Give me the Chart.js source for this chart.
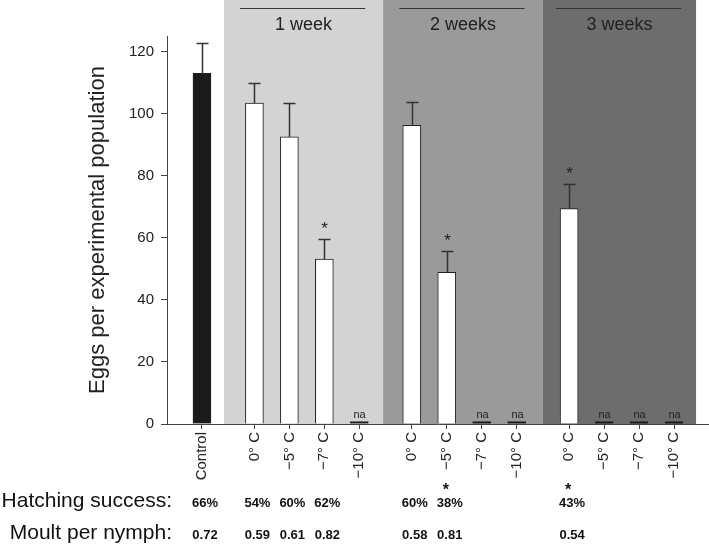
<!DOCTYPE html>
<html>
<head>
<meta charset="utf-8">
<script src="https://cdn.jsdelivr.net/npm/chart.js@4"></script>
<style>
  html, body { margin: 0; padding: 0; background: #fff; }
</style>
</head>
<body>
<canvas id="eggChart" width="709" height="544"></canvas>
<script>
// Bars, left to right (group 0 = control, then 1, 2, 3 weeks)
const labels = ["Control", "0° C", "−5° C", "−7° C", "−10° C", "0° C", "−5° C", "−7° C", "−10° C", "0° C", "−5° C", "−7° C", "−10° C"];
const groupOf = [0, 1, 1, 1, 1, 2, 2, 2, 2, 3, 3, 3, 3];
const groupNames = ["1 week", "2 weeks", "3 weeks"];
const eggs = [113, 103.4, 92.5, 53.1, null, 96.2, 48.9, null, null, 69.4, null, null, null];
const errorTop = [122.6, 110, 103.3, 59.7, null, 103.6, 55.6, null, null, 77.4, null, null, null];
const significant = [false, false, false, true, false, false, true, false, false, true, false, false, false];
const hatching = ["66%", "54%", "60%", "62%", null, "60%", "38%", null, null, "43%", null, null, null];
const hatchingSig = [false, false, false, false, false, false, true, false, false, true, false, false, false];
const moult = ["0.72", "0.59", "0.61", "0.82", null, "0.58", "0.81", null, null, "0.54", null, null, null];
const naStub = 0.8; // height of the little "na" marks
const yTicks = [0, 20, 40, 60, 80, 100, 120];

const FONT = "'Liberation Sans', Arial, Helvetica, sans-serif";

// half a slot of space between groups
const xPos = labels.map((_, i) => i + 0.5 * groupOf[i]);
// shaded areas behind each week group, in x units
const shades = [
  { from: 0.63, to: 5.18, color: "#d3d3d3" },
  { from: 5.18, to: 9.75, color: "#9a9a9a" },
  { from: 9.75, to: 14.13, color: "#6d6d6d" },
];

const barData = labels.map((_, i) => ({ x: xPos[i], y: eggs[i] == null ? naStub : eggs[i] }));
const barFill = labels.map((_, i) => (i === 0 ? "#1a1a1a" : eggs[i] == null ? "#111" : "#fff"));

const backdrop = {
  id: "backdrop",
  beforeDraw(chart) {
    const { ctx, chartArea, scales: { x } } = chart;
    ctx.save();
    shades.forEach((s, k) => {
      const x0 = x.getPixelForValue(s.from);
      const x1 = x.getPixelForValue(s.to);
      ctx.fillStyle = s.color;
      ctx.fillRect(x0, 0, x1 - x0, chartArea.bottom);
      const mid = (x0 + x1) / 2 - 1;
      const half = x.getPixelForValue(1.79) - x.getPixelForValue(0);
      ctx.strokeStyle = "#333";
      ctx.lineWidth = 1.2;
      ctx.beginPath();
      ctx.moveTo(mid - half, 8.5);
      ctx.lineTo(mid + half, 8.5);
      ctx.stroke();
      ctx.fillStyle = "#222";
      ctx.font = "18px " + FONT;
      ctx.textAlign = "center";
      ctx.textBaseline = "alphabetic";
      ctx.fillText(groupNames[k], mid + 1, 30);
    });
    ctx.restore();
  },
};

const marks = {
  id: "marks",
  afterDatasetsDraw(chart) {
    const { ctx, scales: { x, y } } = chart;
    ctx.save();
    ctx.strokeStyle = "#333";
    ctx.fillStyle = "#222";
    ctx.textAlign = "center";
    ctx.textBaseline = "alphabetic";
    labels.forEach((_, i) => {
      const px = Math.round(x.getPixelForValue(xPos[i])) + 0.5;
      if (errorTop[i] != null) {
        const yb = y.getPixelForValue(eggs[i]);
        const yt = Math.round(y.getPixelForValue(errorTop[i])) + 0.5;
        ctx.lineWidth = 1.5;
        ctx.beginPath();
        ctx.moveTo(px, yb);
        ctx.lineTo(px, yt);
        ctx.moveTo(px - 6, yt);
        ctx.lineTo(px + 6, yt);
        ctx.stroke();
        if (significant[i]) {
          ctx.font = "17px " + FONT;
          ctx.fillText("*", px, yt - 6);
        }
      }
      if (eggs[i] == null) {
        ctx.font = "11px " + FONT;
        ctx.fillText("na", px, y.getPixelForValue(0) - 6);
      }
    });
    ctx.restore();
  },
};

const bottomRows = {
  id: "bottomRows",
  afterDraw(chart) {
    const { ctx, scales: { x } } = chart;
    ctx.save();
    ctx.fillStyle = "#111";
    ctx.textBaseline = "alphabetic";
    ctx.textAlign = "right";
    ctx.font = "21px " + FONT;
    ctx.fillText("Hatching success:", 172, 507);
    ctx.fillText("Moult per nymph:", 172, 539);
    ctx.textAlign = "center";
    labels.forEach((_, i) => {
      const px = x.getPixelForValue(xPos[i]) + 3;
      ctx.font = "bold 13px " + FONT;
      if (hatching[i]) ctx.fillText(hatching[i], px, 507);
      if (moult[i]) ctx.fillText(moult[i], px, 539);
      if (hatchingSig[i]) {
        ctx.font = "bold 16px " + FONT;
        ctx.fillText("*", px - 4, 495);
      }
    });
    ctx.restore();
  },
};

const ctx = document.getElementById("eggChart").getContext("2d");
const eggChart = new Chart(ctx, {
  type: "bar",
  data: {
    datasets: [
      {
        data: barData,
        backgroundColor: barFill,
        borderColor: "#222",
        borderWidth: 1,
        barThickness: 18,
      },
    ],
  },
  options: {
    responsive: false,
    animation: false,
    layout: { padding: { top: 36, left: 0, right: 0, bottom: 0 } },
    plugins: {
      legend: { display: false },
      tooltip: { enabled: false },
    },
    scales: {
      x: {
        type: "linear",
        min: -1,
        max: 14.5,
        offset: false,
        afterBuildTicks: (s) => {
          s.ticks = xPos.map((v) => ({ value: v }));
        },
        afterFit: (s) => {
          s.height = 120;
        },
        grid: { offset: false, drawOnChartArea: false, drawTicks: true, tickLength: 5, color: "#444" },
        border: { display: true, color: "#444", width: 1 },
        ticks: {
          autoSkip: false,
          minRotation: 90,
          maxRotation: 90,
          padding: 3,
          color: "#222",
          font: { family: FONT, size: 15 },
          callback: (v, i) => labels[i],
        },
      },
      y: {
        min: 0,
        max: 125,
        afterBuildTicks: (s) => {
          s.ticks = yTicks.map((v) => ({ value: v }));
        },
        afterFit: (s) => {
          s.width = 167;
        },
        grid: { drawOnChartArea: false, drawTicks: true, tickLength: 6, color: "#444" },
        border: { display: true, color: "#444", width: 1 },
        ticks: { color: "#222", padding: 7, font: { family: FONT, size: 15 } },
        title: {
          display: true,
          text: "Eggs per experimental population",
          color: "#222",
          font: { family: FONT, size: 22 },
          padding: { top: 85, bottom: 0 },
        },
      },
    },
  },
  plugins: [backdrop, marks, bottomRows],
});
</script>
</body>
</html>
